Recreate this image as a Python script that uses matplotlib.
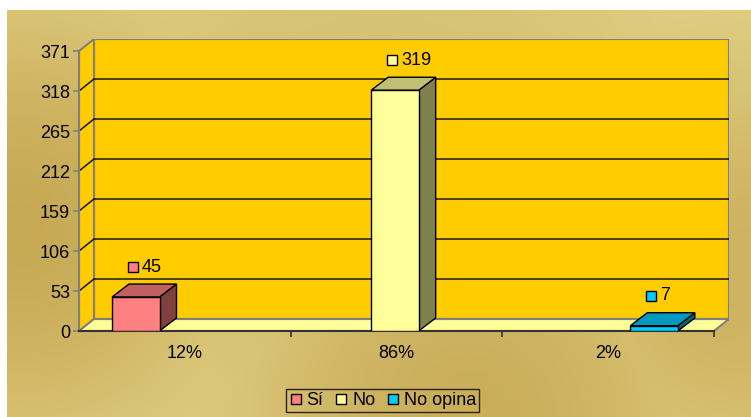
import numpy as np
import matplotlib
matplotlib.use('Agg')
import matplotlib.pyplot as plt
from matplotlib.patches import Polygon, Rectangle
from matplotlib.lines import Line2D
from matplotlib.transforms import offset_copy

plt.rcParams['font.family'] = ['Liberation Sans', 'DejaVu Sans']

# data
categories = ['12%', '86%', '2%']
series_names = ['Sí', 'No', 'No opina']
si_values = [45, 0, 0]
no_values = [0, 319, 0]
no_opina_values = [0, 0, 7]
y_ticks = [0, 53, 106, 159, 212, 265, 318, 371]

front_colors = ['#FF8080', '#FFFF99', '#00CCFF']
top_colors = ['#C06060', '#C0C073', '#0099C0']
side_colors = ['#804040', '#80804D', '#006680']

W, H, DPI = 751, 417, 100
FS = 13
fig = plt.figure(figsize=(W / DPI, H / DPI), dpi=DPI, facecolor='white')

# textured gold background
bg = fig.add_axes([7 / W, 0, (W - 7) / W, (H - 10) / H], zorder=-10)
gx, gy = np.meshgrid(np.linspace(7, W, 300), np.linspace(10, H, 200))
wgt = np.zeros_like(gx)
for cx, cy, r, s in [(20, 225, 170, 1.0), (470, 420, 190, 0.9), (745, 270, 170, 0.8), (380, 200, 260, 0.6)]:
    wgt = np.maximum(wgt, s * np.exp(-((gx - cx) ** 2 + (gy - cy) ** 2) / (2 * r ** 2)))
light = np.array([0.905, 0.845, 0.56])
dark = np.array([0.78, 0.665, 0.33])
img = light[None, None, :] * (1 - wgt[..., None]) + dark[None, None, :] * wgt[..., None]
bg.imshow(img, aspect='auto', extent=(0, 1, 0, 1), origin='upper')
bg.axis('off')

# plot geometry (pixels)
px_x = (714 - 79) / 3.0
px_y = (331 - 51) / 371.0
DX = 15 / px_x
DY = 12 / px_y
BDX = 17 / px_x
BDY = 13 / px_y
ymax = y_ticks[-1]

ax = fig.add_axes([79 / W, (H - 331) / H, (729 - 79) / W, (331 - 39) / H])
ax.set_xlim(0, 3 + DX)
ax.set_ylim(0, ymax + DY)
ax.patch.set_alpha(0)
for sp in ax.spines.values():
    sp.set_visible(False)

wall_edge = '#808080'
ax.add_patch(Rectangle((DX, DY), 3, ymax, facecolor='#FFCC00', edgecolor=wall_edge, lw=1.5, zorder=1))
ax.add_patch(Polygon([(0, 0), (0, ymax), (DX, ymax + DY), (DX, DY)], closed=True,
                     facecolor='#FFCC00', edgecolor=wall_edge, lw=1.5, zorder=1))
ax.add_patch(Polygon([(0, 0), (3, 0), (3 + DX, DY), (DX, DY)], closed=True,
                     facecolor='#FFFF99', edgecolor=wall_edge, lw=1.5, zorder=1))
for v in y_ticks[1:-1]:
    ax.plot([DX, 3 + DX], [v + DY, v + DY], color='#1a1a1a', lw=1.1, zorder=2)
    ax.plot([0, DX], [v, v + DY], color='#1a1a1a', lw=1.1, zorder=2)
ax.plot([DX, 3 + DX], [DY, DY], color=wall_edge, lw=1.5, zorder=2)
ax.plot([0, 0], [0, ymax], color=wall_edge, lw=1.5, zorder=3, clip_on=False)
ax.plot([0, 3], [0, 0], color='#333333', lw=1.5, zorder=3, clip_on=False)

# bars
series = [si_values, no_values, no_opina_values]
bar_w = 47.5 / px_x
bar_off = 33 / px_x
for j, vals in enumerate(series):
    for i, v in enumerate(vals):
        if v == 0:
            continue
        x0 = i + bar_off + j * bar_w
        x1 = x0 + bar_w
        ax.add_patch(Polygon([(x1, 0), (x1 + BDX, BDY), (x1 + BDX, v + BDY), (x1, v)], closed=True,
                             facecolor=side_colors[j], edgecolor='black', lw=1, zorder=5))
        ax.add_patch(Polygon([(x0, v), (x1, v), (x1 + BDX, v + BDY), (x0 + BDX, v + BDY)], closed=True,
                             facecolor=top_colors[j], edgecolor='black', lw=1, zorder=5))
        ax.add_patch(Rectangle((x0, 0), bar_w, v, facecolor=front_colors[j], edgecolor='black', lw=1, zorder=6))
        xc = (x0 + x1) / 2
        tr_m = offset_copy(ax.transData, fig=fig, x=-3 * 0.72, y=30 * 0.72, units='points')
        tr_t = offset_copy(ax.transData, fig=fig, x=6 * 0.72, y=30 * 0.72, units='points')
        ax.plot([xc], [v], marker='s', ms=7.2, mfc=front_colors[j], mec='black', mew=1,
                transform=tr_m, clip_on=False, zorder=7)
        ax.text(xc, v, str(v), transform=tr_t, ha='left', va='center', fontsize=FS, zorder=7)

# axes ticks
ax.set_yticks(y_ticks)
ax.set_yticklabels([str(t) for t in y_ticks])
ax.tick_params(axis='y', length=4, width=1.2, color=wall_edge, pad=2.5, labelsize=FS)
ax.set_xticks([0.5, 1.5, 2.5])
ax.set_xticklabels(categories)
ax.set_xticks([1, 2, 3], minor=True)
ax.tick_params(axis='x', which='major', length=0, pad=10, labelsize=FS)
ax.tick_params(axis='x', which='minor', length=4, width=1.2, color='#333333')

# legend
handles = [Line2D([], [], ls='none', marker='s', ms=7.2, mfc=c, mec='black', mew=1) for c in front_colors]
leg = fig.legend(handles, series_names, loc='center', bbox_to_anchor=(382.5 / W, 1 - 400.5 / H),
                 ncol=3, frameon=True, fancybox=False, fontsize=FS, handlelength=0.8,
                 handletextpad=0.2, columnspacing=0.6, borderpad=0.15, borderaxespad=0)
leg.get_frame().set_facecolor('none')
leg.get_frame().set_edgecolor('black')
leg.get_frame().set_linewidth(1)

fig.savefig('out.png', dpi=DPI)
